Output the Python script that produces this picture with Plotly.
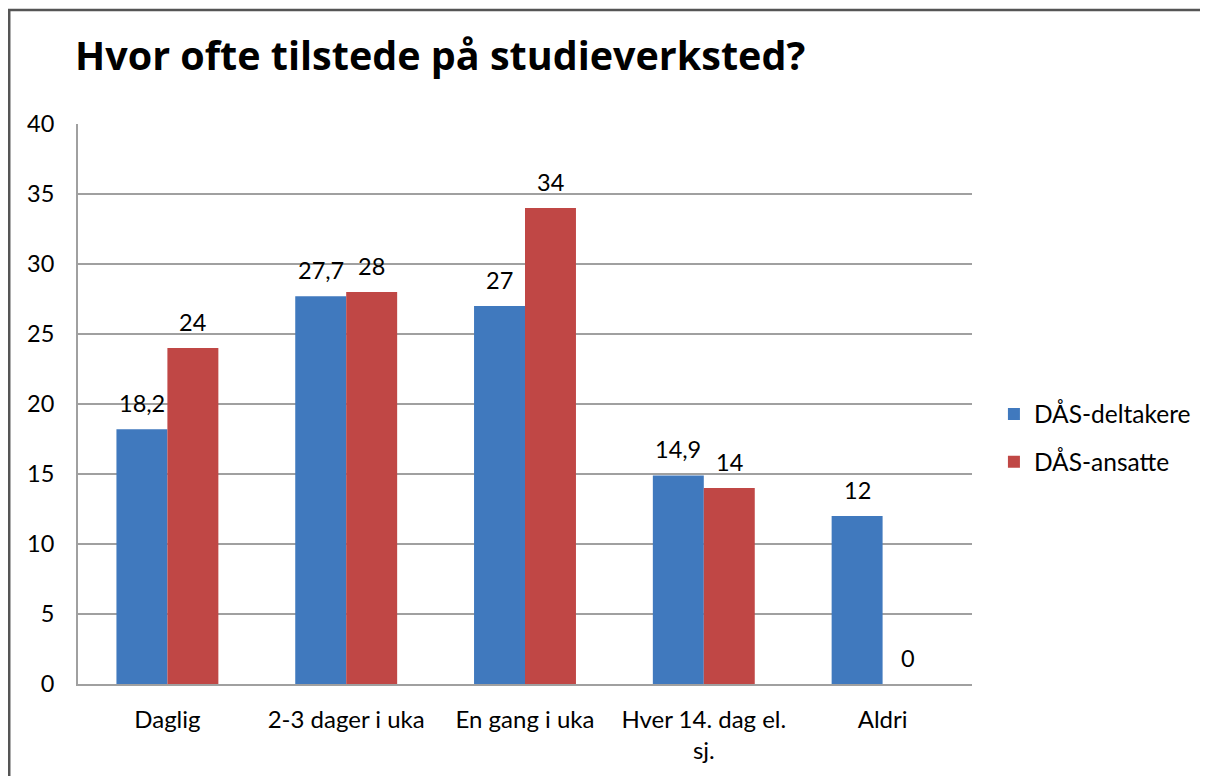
import plotly.graph_objects as go

categories = ["Daglig", "2-3 dager i uka", "En gang i uka", "Hver 14. dag el.<br>sj.", "Aldri"]
deltakere = [18.2, 27.7, 27, 14.9, 12]
ansatte = [24, 28, 34, 14, 0]
series_names = ["DÅS-deltakere", "DÅS-ansatte"]
title_text = "Hvor ofte tilstede på studieverksted?"
y_ticks = [0, 5, 10, 15, 20, 25, 30, 35, 40]

FONT = "Lato"
TITLE_FONT = "Open Sans"
COLORS = ["#4079BE", "#C04745"]

def lbl(vals):
    return [f"{v:g}".replace(".", ",") for v in vals]

# page body has an 8px margin; work in page coordinates and subtract it
O = 8
W, H = 1208 - O, 776 - O
L, R, T, B = 78 - O, 975 - O, 124 - O, 684 - O
pw, ph = R - L, B - T

def px(x):
    return (x - O - L) / pw

def py(y):
    return (B - (y - O)) / ph

fig = go.Figure()
for name, vals, col, grp in [(series_names[0], deltakere, COLORS[0], "a"),
                             (series_names[1], ansatte, COLORS[1], "b")]:
    fig.add_trace(go.Bar(x=categories, y=vals, name=name, marker_color=col,
                         marker_line_width=0, legendgroup=grp))

bar_w = pw / len(categories) * 0.57 / 2
annotations = []
for vals, shift in [(deltakere, -bar_w / 2), (ansatte, bar_w / 2)]:
    for c, v, t in zip(categories, vals, lbl(vals)):
        annotations.append(dict(x=c, y=v, xref="x", yref="y", text=t, showarrow=False,
                                xshift=shift, yshift=26, yanchor="middle", xanchor="center",
                                font=dict(size=23.5, family=FONT, color="black")))

fig.update_layout(
    width=W, height=H,
    margin=dict(l=L, r=W - R, t=T, b=H - B, pad=0),
    paper_bgcolor="white", plot_bgcolor="white",
    font=dict(family=FONT, size=23, color="black"),
    barmode="group", bargap=0.43, bargroupgap=0,
    title=dict(text="<b>" + title_text + "</b>", font=dict(size=39.5, family=TITLE_FONT, color="black"),
               x=(75 - O) / W, xref="container", xanchor="left",
               y=1 - (56 - O) / H, yref="container", yanchor="middle"),
    legend=dict(x=px(997), xanchor="left", y=py(438), yanchor="middle",
                font=dict(size=24.5, family=FONT), tracegroupgap=13, bgcolor="rgba(0,0,0,0)"),
    showlegend=True,
    annotations=annotations,
    shapes=[dict(type="path", xref="paper", yref="paper",
                 path=f"M {px(9)} {py(800)} L {px(9)} {py(10)} L {px(1230)} {py(10)}",
                 line=dict(color="#555555", width=2.5))],
)
fig.update_xaxes(showgrid=False, showline=True, linecolor="#A0A0A0", linewidth=2,
                 ticks="outside", ticklen=13, tickcolor="rgba(0,0,0,0)",
                 tickfont=dict(size=24, family=FONT))
fig.update_yaxes(range=[0, 40], tickvals=y_ticks, showgrid=True, gridcolor="#A0A0A0", gridwidth=2,
                 showline=True, linecolor="#A0A0A0", linewidth=2, zeroline=False,
                 ticks="outside", ticklen=17, tickcolor="rgba(0,0,0,0)",
                 tickfont=dict(size=23.5, family=FONT))

fig.write_html("out.html")
